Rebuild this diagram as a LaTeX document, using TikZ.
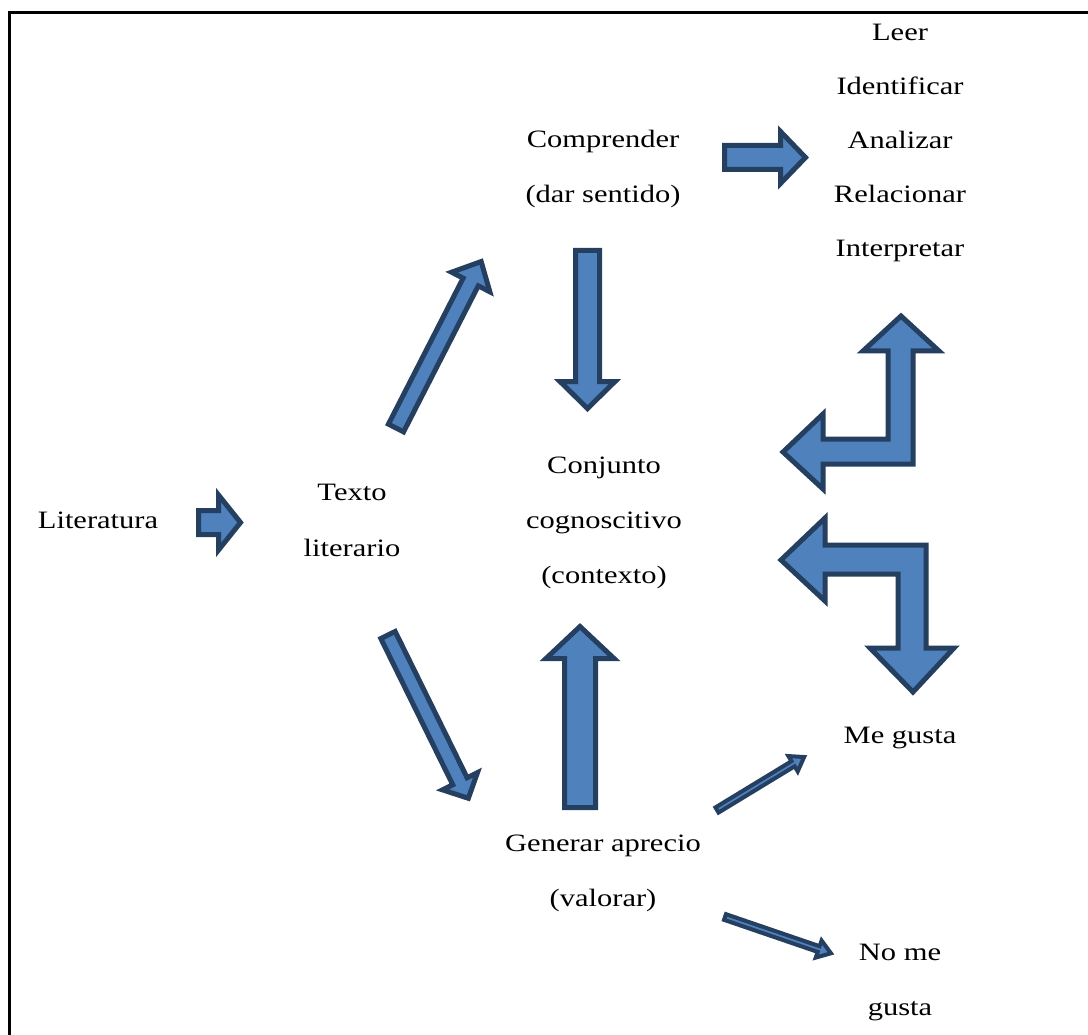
\documentclass[tikz,border=0pt]{standalone}
\usepackage{fontspec}
\setmainfont{Liberation Serif}[FakeStretch=1.22]
\definecolor{afill}{HTML}{4F81BD}
\definecolor{aline}{HTML}{243F60}
\tikzset{
  lbl/.style={anchor=base, inner sep=0pt, font=\fontsize{25}{30}\selectfont},
  blockarrow/.style={draw=aline, fill=afill, line width=5pt, line join=miter},
  thinarrow/.style={draw=aline, fill=afill, line width=4pt, line join=miter},
}
% tail x, tail y, angle, length, shaft half width, head half width, head length, style
\newcommand{\blockarr}[8]{%
  \draw[#8, shift={(#1,#2)}, rotate=#3] (0,-#5) -- ({#4-#7},-#5) -- ({#4-#7},-#6) -- (#4,0)
    -- ({#4-#7},#6) -- ({#4-#7},#5) -- (0,#5) -- cycle;}
\begin{document}
\begin{tikzpicture}[x=1pt,y=-1pt]
\useasboundingbox (0,0) rectangle (1088,1035);
% frame
\draw[line width=3pt] (9.5,1035) -- (9.5,12.5) -- (1088,12.5);
% texts
\node[lbl] (lit) at (98,528) {Literatura};
\node[lbl] (tex1) at (352,500) {Texto};
\node[lbl] (tex2) at (352,556) {literario};
\node[lbl] (com1) at (603,148) {Comprender};
\node[lbl] (com2) at (603,203) {(dar sentido)};
\node[lbl] (con1) at (604,473) {Conjunto};
\node[lbl] (con2) at (604,528) {cognoscitivo};
\node[lbl] (con3) at (604,583) {(contexto)};
\node[lbl] (gen1) at (603,851) {Generar aprecio};
\node[lbl] (gen2) at (603,906) {(valorar)};
\node[lbl] (l1) at (900,41) {Leer};
\node[lbl] (l2) at (900,95) {Identificar};
\node[lbl] (l3) at (900,149) {Analizar};
\node[lbl] (l4) at (900,203) {Relacionar};
\node[lbl] (l5) at (900,257) {Interpretar};
\node[lbl] (meg) at (900,743) {Me gusta};
\node[lbl] (nom1) at (900,960) {No me};
\node[lbl] (nom2) at (900,1015) {gusta};
% straight block arrows
\blockarr{198.5}{522.5}{0}{42}{12}{27.5}{22}{blockarrow}
\blockarr{724.5}{157.5}{0}{81}{12}{26}{25}{blockarrow}
\blockarr{396}{428}{62.9}{187}{8.5}{21.5}{23}{blockarrow}
\blockarr{587.5}{250.5}{-90}{158}{12}{27.5}{27}{blockarrow}
\blockarr{388}{635}{-63.8}{182}{8}{19.5}{19}{blockarrow}
\blockarr{580}{807.5}{90}{181}{15.5}{34}{32}{blockarrow}
% thin arrows
\blockarr{717}{810}{31.3}{102}{3}{9}{13}{thinarrow}
\blockarr{725}{917}{-18.9}{112}{3}{9}{13}{thinarrow}
% bent arrows
\draw[blockarrow] (901,316) -- (939,351) -- (913,351) -- (913,464) -- (823,464) -- (823,489)
  -- (783,452) -- (823,414) -- (823,439) -- (888,439) -- (888,351) -- (863,351) -- cycle;
\draw[blockarrow] (781,560) -- (825,518) -- (825,545) -- (926,545) -- (926,648) -- (954,648)
  -- (913,692) -- (870,648) -- (898,648) -- (898,574) -- (825,574) -- (825,601) -- cycle;
\end{tikzpicture}
\end{document}
